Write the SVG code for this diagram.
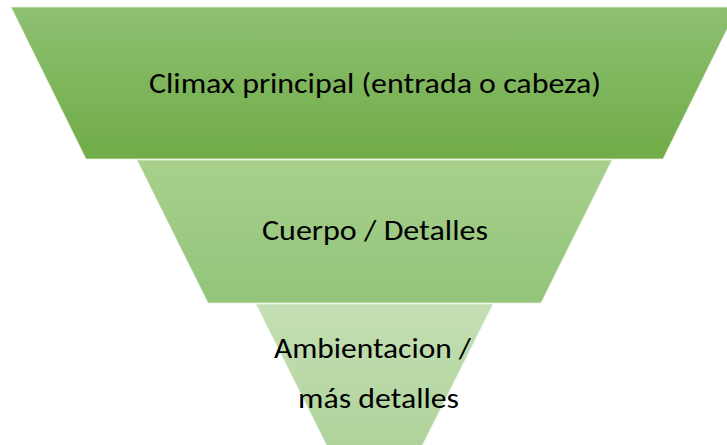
<svg xmlns="http://www.w3.org/2000/svg" width="727" height="445" viewBox="0 0 727 445">
  <defs>
    <linearGradient id="g1" x1="0" y1="0" x2="0" y2="1">
      <stop offset="0" stop-color="#8ec072"/>
      <stop offset="1" stop-color="#70ac47"/>
    </linearGradient>
    <linearGradient id="g2" x1="0" y1="0" x2="0" y2="1">
      <stop offset="0" stop-color="#a8d08d"/>
      <stop offset="1" stop-color="#93c47a"/>
    </linearGradient>
    <linearGradient id="g3" x1="0" y1="0" x2="0" y2="1">
      <stop offset="0" stop-color="#c5dfb4"/>
      <stop offset="1" stop-color="#aed39a"/>
    </linearGradient>
    <style>
      .lbl { font-family: Carlito, Calibri, Lato, "Liberation Sans", sans-serif; font-size: 29px; fill: #000000; text-anchor: middle; }
      .seg { stroke: #e8f2e0; stroke-width: 0.8; }
    </style>
  </defs>
  <rect width="727" height="445" fill="#ffffff"/>
  <g id="node-climax">
    <polygon class="seg" points="11,7 738,7 663,159 86,159" fill="url(#g1)"/>
    <text class="lbl" x="375" y="93" textLength="452" lengthAdjust="spacingAndGlyphs">Climax principal (entrada o cabeza)</text>
  </g>
  <g id="node-cuerpo">
    <polygon class="seg" points="137,160 612,160 541,303 208,303" fill="url(#g2)"/>
    <text class="lbl" x="375" y="240" textLength="226" lengthAdjust="spacingAndGlyphs">Cuerpo / Detalles</text>
  </g>
  <g id="node-ambientacion">
    <polygon class="seg" points="256,304 493,304 420,450 329,450" fill="url(#g3)"/>
    <text class="lbl" x="372.5" y="358" textLength="197" lengthAdjust="spacingAndGlyphs">Ambientacion /</text>
    <text class="lbl" x="378.5" y="408" textLength="161" lengthAdjust="spacingAndGlyphs">más detalles</text>
  </g>
  <g id="connectors"></g>
</svg>
